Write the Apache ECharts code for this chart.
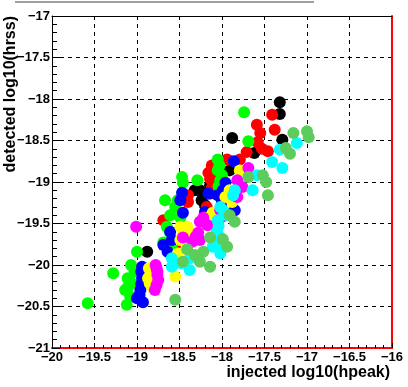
<!DOCTYPE html>
<html><head><meta charset="utf-8">
<script src="https://cdn.jsdelivr.net/npm/echarts@6/dist/echarts.min.js"></script>
<style>html,body{margin:0;padding:0;background:#fff}#c{width:408px;height:387px}</style>
</head><body><div id="c"></div>
<script>
const xLabel = 'injected log10(hpeak)';
const yLabel = 'detected log10(hrss)';
const xRange = [-20, -16];
const yRange = [-21, -17];
const tickStep = 0.5;

const blackPts = [[-17.32,-18.04],[-17.32,-18.18],[-17.88,-18.47],[-17.29,-18.49],[-17.62,-18.65],[-18.32,-19.10],[-18.24,-19.22],[-18.14,-19.04],[-18.14,-19.14],[-17.91,-18.86],[-18.88,-19.84],[-18.26,-19.10],[-18.20,-19.28]];
const redPts = [[-17.41,-18.19],[-17.38,-18.37],[-17.59,-18.31],[-17.55,-18.41],[-17.58,-18.52],[-17.71,-18.64],[-17.46,-18.63],[-18.12,-18.80],[-18.16,-18.89],[-17.94,-18.73],[-18.06,-18.89],[-18.12,-19.07],[-18.40,-19.16],[-18.40,-19.24],[-18.69,-19.46],[-18.55,-19.76],[-17.53,-18.60],[-17.79,-18.73],[-18.14,-18.96],[-18.18,-19.30]];
const greenPts = [[-19.58,-20.46],[-19.28,-20.10],[-19.11,-20.16],[-19.14,-20.30],[-19.12,-20.48],[-19.11,-20.27],[-19.00,-19.84],[-18.69,-19.73],[-18.65,-19.54],[-18.61,-19.61],[-18.67,-19.22],[-18.55,-19.30],[-18.47,-18.94],[-18.29,-18.98],[-18.05,-18.73],[-18.05,-18.86],[-18.02,-18.98],[-17.74,-18.16],[-17.69,-18.51],[-18.49,-19.43],[-19.07,-20.00],[-19.06,-20.22],[-19.08,-20.38],[-19.03,-20.08],[-18.61,-19.40],[-18.59,-19.76],[-18.52,-19.22],[-18.03,-18.80],[-18.00,-18.92],[-18.04,-19.05],[-18.46,-19.01]];
const bluePts = [[-18.94,-20.02],[-18.94,-20.16],[-18.96,-20.30],[-19.00,-20.40],[-18.93,-20.45],[-18.64,-19.84],[-18.61,-19.60],[-18.47,-19.13],[-18.46,-19.37],[-18.20,-19.36],[-17.96,-19.01],[-17.86,-18.75],[-17.99,-19.10],[-18.05,-19.16],[-18.00,-19.24],[-17.85,-19.34],[-18.69,-19.76],[-18.95,-20.08],[-18.95,-20.23],[-18.97,-20.36],[-18.59,-19.70],[-18.49,-19.22],[-18.16,-19.14]];
const yellowPts = [[-18.86,-20.04],[-18.87,-20.16],[-18.82,-20.27],[-18.55,-20.14],[-18.49,-19.54],[-18.52,-19.86],[-18.41,-19.54],[-18.39,-19.60],[-18.49,-19.70],[-17.88,-19.24],[-18.14,-19.49],[-17.79,-18.86],[-17.96,-19.18],[-18.11,-19.37],[-18.84,-20.10],[-18.85,-20.22],[-18.46,-19.64],[-17.91,-19.10],[-18.20,-19.43]];
const magentaPts = [[-19.01,-19.54],[-18.78,-20.00],[-18.76,-20.08],[-18.75,-20.18],[-18.79,-20.30],[-18.46,-19.67],[-18.35,-19.72],[-18.28,-19.61],[-18.26,-19.70],[-18.22,-19.43],[-18.26,-19.48],[-18.00,-19.42],[-17.82,-18.98],[-17.69,-18.83],[-17.76,-19.06],[-17.82,-19.18],[-18.02,-19.34],[-18.35,-19.90],[-18.77,-20.04],[-18.76,-20.12],[-18.77,-20.24],[-18.31,-19.66],[-18.17,-19.52]];
const cyanPts = [[-18.59,-19.92],[-18.59,-20.02],[-18.38,-19.92],[-18.38,-20.06],[-18.06,-19.60],[-18.02,-19.73],[-18.02,-19.86],[-18.02,-19.30],[-17.94,-19.40],[-18.05,-19.46],[-18.11,-19.78],[-17.87,-19.16],[-17.12,-18.53],[-17.32,-18.61],[-17.41,-18.76],[-17.29,-18.83],[-17.59,-18.92],[-17.64,-19.10],[-18.48,-19.98],[-18.04,-19.53],[-18.03,-19.66],[-17.98,-19.35],[-17.85,-19.10]];
const olivePts = [[-17.16,-18.41],[-17.00,-18.39],[-16.98,-18.46],[-17.25,-18.59],[-17.20,-18.66],[-17.52,-18.92],[-17.48,-19.00],[-17.69,-18.94],[-17.46,-19.16],[-17.91,-19.40],[-17.85,-19.48],[-18.14,-19.67],[-17.99,-19.69],[-17.94,-19.78],[-18.22,-19.84],[-18.41,-19.81],[-18.46,-19.96],[-18.14,-20.02],[-18.55,-20.42],[-18.26,-19.96],[-18.32,-19.88]];

const groups = [
  ['black', blackPts, '#000000'],
  ['red', redPts, '#ff0000'],
  ['green', greenPts, '#00ff00'],
  ['blue', bluePts, '#0000ff'],
  ['yellow', yellowPts, '#ffff00'],
  ['magenta', magentaPts, '#ff00ff'],
  ['cyan', cyanPts, '#00ffff'],
  ['green8', olivePts, '#5ccc5c']
];

const fmt = v => (v < 0 ? '\u2212' : '') + Math.abs(v);
const lblFont = {fontFamily:'Liberation Sans', fontWeight:'bold', fontSize:13, color:'#000'};

const chart = echarts.init(document.getElementById('c'), null, {renderer:'canvas'});
chart.setOption({
  animation:false,
  backgroundColor:'#fff',
  grid:{left:52, right:16, top:16, bottom:39, show:false},
  xAxis:[{
    type:'value', min:xRange[0], max:xRange[1], interval:tickStep, position:'bottom',
    axisLine:{show:true, onZero:false, lineStyle:{color:'#ff0000', width:2}},
    axisTick:{show:true, inside:true, length:5, lineStyle:{color:'#000'}},
    minorTick:{show:true, splitNumber:5, length:3, lineStyle:{color:'#000'}},
    axisLabel:Object.assign({formatter:fmt, margin:3}, lblFont),
    splitLine:{show:true, lineStyle:{color:'#000', type:[4,4], width:1}}
  },{
    type:'value', min:xRange[0], max:xRange[1], position:'top',
    axisLine:{show:true, onZero:false, lineStyle:{color:'#000', width:1}},
    axisTick:{show:false}, axisLabel:{show:false}, splitLine:{show:false}
  }],
  yAxis:[{
    type:'value', min:yRange[0], max:yRange[1], interval:tickStep, position:'left',
    axisLine:{show:true, onZero:false, lineStyle:{color:'#000', width:1}},
    axisTick:{show:true, inside:true, length:8, lineStyle:{color:'#000'}},
    minorTick:{show:true, splitNumber:5, length:5, lineStyle:{color:'#000'}},
    axisLabel:Object.assign({formatter:fmt, margin:2}, lblFont),
    splitLine:{show:true, lineStyle:{color:'#000', type:[4,4], width:1}}
  },{
    type:'value', min:yRange[0], max:yRange[1], position:'right',
    axisLine:{show:true, onZero:false, lineStyle:{color:'#ff0000', width:2}},
    axisTick:{show:false}, axisLabel:{show:false}, splitLine:{show:false}
  }],
  graphic:[
    {type:'line', shape:{x1:15, y1:2, x2:314, y2:2}, style:{stroke:'#a0a0a0', lineWidth:2}},
    {type:'text', right:18, top:365, style:{text:xLabel, font:'bold 16px "Liberation Sans"', fill:'#000'}},
    {type:'text', left:3, top:16, rotation:Math.PI/2, originX:0, originY:0,
     style:{text:yLabel, font:'bold 16px "Liberation Sans"', fill:'#000', align:'right', verticalAlign:'top'}}
  ],
  series: groups.map(g => ({
    name:g[0], type:'scatter', data:g[1], symbol:'circle', symbolSize:12,
    itemStyle:{color:g[2], opacity:1}, xAxisIndex:0, yAxisIndex:0
  }))
});
</script></body></html>
